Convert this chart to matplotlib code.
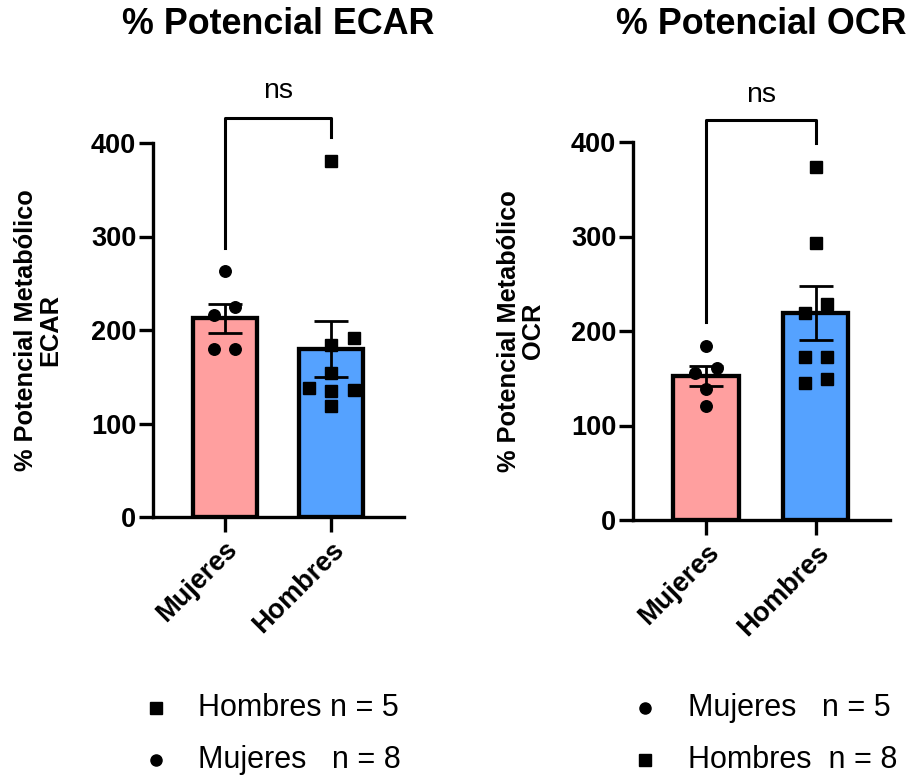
import matplotlib
matplotlib.use("Agg")
import matplotlib.pyplot as plt
from matplotlib.lines import Line2D
import numpy as np

plt.rcParams['font.family'] = ['Liberation Sans', 'DejaVu Sans']

groups = ['Mujeres', 'Hombres']

# individual points
ecar_mujeres = [263, 216, 225, 180, 180]
ecar_hombres = [381, 191, 184, 154, 138, 135, 136, 119]
ocr_mujeres = [184, 156, 161, 139, 121]
ocr_hombres = [374, 293, 229, 219, 172, 172, 145, 149]

# horizontal scatter of the points (in bar units)
ecar_mujeres_dx = [0, -0.10, 0.10, -0.10, 0.10]
ecar_hombres_dx = [0, 0.21, 0, 0, -0.21, 0, 0.21, 0]
ocr_mujeres_dx = [0, -0.10, 0.10, 0, 0]
ocr_hombres_dx = [0, 0, 0.10, -0.10, -0.10, 0.10, -0.10, 0.10]

ecar_legend = [('s', 'Hombres n = 5'), ('o', 'Mujeres   n = 8')]
ocr_legend = [('o', 'Mujeres   n = 5'), ('s', 'Hombres  n = 8')]

pink = '#ff9f9f'
blue = '#55a2ff'


def panel(ax, sets, offsets, bracket, title, ylabel, lab_x):
    for i, (vals, dx, col, mk) in enumerate(zip(sets, offsets, [pink, blue], ['o', 's'])):
        vals = np.array(vals, dtype=float)
        mean = vals.mean()
        sem = vals.std(ddof=1) / np.sqrt(len(vals))
        ax.bar(i, mean, width=0.6, color=col, edgecolor='black', linewidth=3.1, zorder=2)
        ax.plot(i + np.array(dx), vals, mk, color='black', markersize=8.3, zorder=3, clip_on=False)
        ax.errorbar(i, mean, yerr=sem, fmt='none', ecolor='black', elinewidth=2,
                    capsize=12.5, capthick=2, zorder=4)
    top, left_end, right_end, ns_y = bracket
    ax.plot([0, 0, 1, 1], [left_end, top, top, right_end], color='black', lw=2.2,
            clip_on=False, zorder=5)
    ax.text(0.5, ns_y, 'ns', ha='center', va='center', fontsize=20.5)

    ax.set_ylim(0, 400)
    ax.set_xlim(-0.67, 1.68)
    ax.set_yticks([0, 100, 200, 300, 400])
    ax.set_xticks([0, 1])
    ax.set_xticklabels(groups, rotation=45, ha='right', rotation_mode='anchor',
                       fontsize=19.5, fontweight='bold')
    for lab in ax.get_yticklabels():
        lab.set_fontsize(19.5)
        lab.set_fontweight('bold')
    for s in ['top', 'right']:
        ax.spines[s].set_visible(False)
    for s in ['left', 'bottom']:
        ax.spines[s].set_linewidth(2.4)
    ax.tick_params(axis='both', width=2.4, length=10, pad=2)
    ax.tick_params(axis='x', length=11, pad=3)

    bb = ax.get_position()
    fig.text((bb.x0 + bb.x1) / 2, 1 - 24 / 776, title, ha='center', va='center',
             fontsize=25.8, fontweight='bold')
    fig.text(lab_x, (bb.y0 + bb.y1) / 2, ylabel, rotation=90, ha='center', va='center',
             fontsize=18.3, fontweight='bold', multialignment='center', linespacing=1.05)


fig = plt.figure(figsize=(9.11, 7.76), dpi=100)
ax1 = fig.add_axes([153 / 911, 1 - 517 / 776, 251 / 911, 374 / 776])
ax2 = fig.add_axes([633 / 911, 1 - 520 / 776, 257 / 911, 378 / 776])

panel(ax1, [ecar_mujeres, ecar_hombres], [ecar_mujeres_dx, ecar_hombres_dx],
      (427, 288, 406, 456), '% Potencial ECAR', '% Potencial Metabólico\nECAR', 38 / 911)
panel(ax2, [ocr_mujeres, ocr_hombres], [ocr_mujeres_dx, ocr_hombres_dx],
      (423, 209, 399, 450), '% Potencial OCR', '% Potencial Metabólico\nOCR', 521 / 911)

for entries, x_mk, x_txt in [(ecar_legend, 156, 198), (ocr_legend, 645, 688)]:
    for (mk, txt), y in zip(entries, [708, 760]):
        fig.add_artist(Line2D([x_mk / 911], [1 - y / 776], marker=mk, color='black',
                              markersize=8, transform=fig.transFigure))
        fig.text(x_txt / 911, 1 - y / 776, txt, ha='left', va='center', fontsize=22)

fig.savefig('out.png', dpi=100)
